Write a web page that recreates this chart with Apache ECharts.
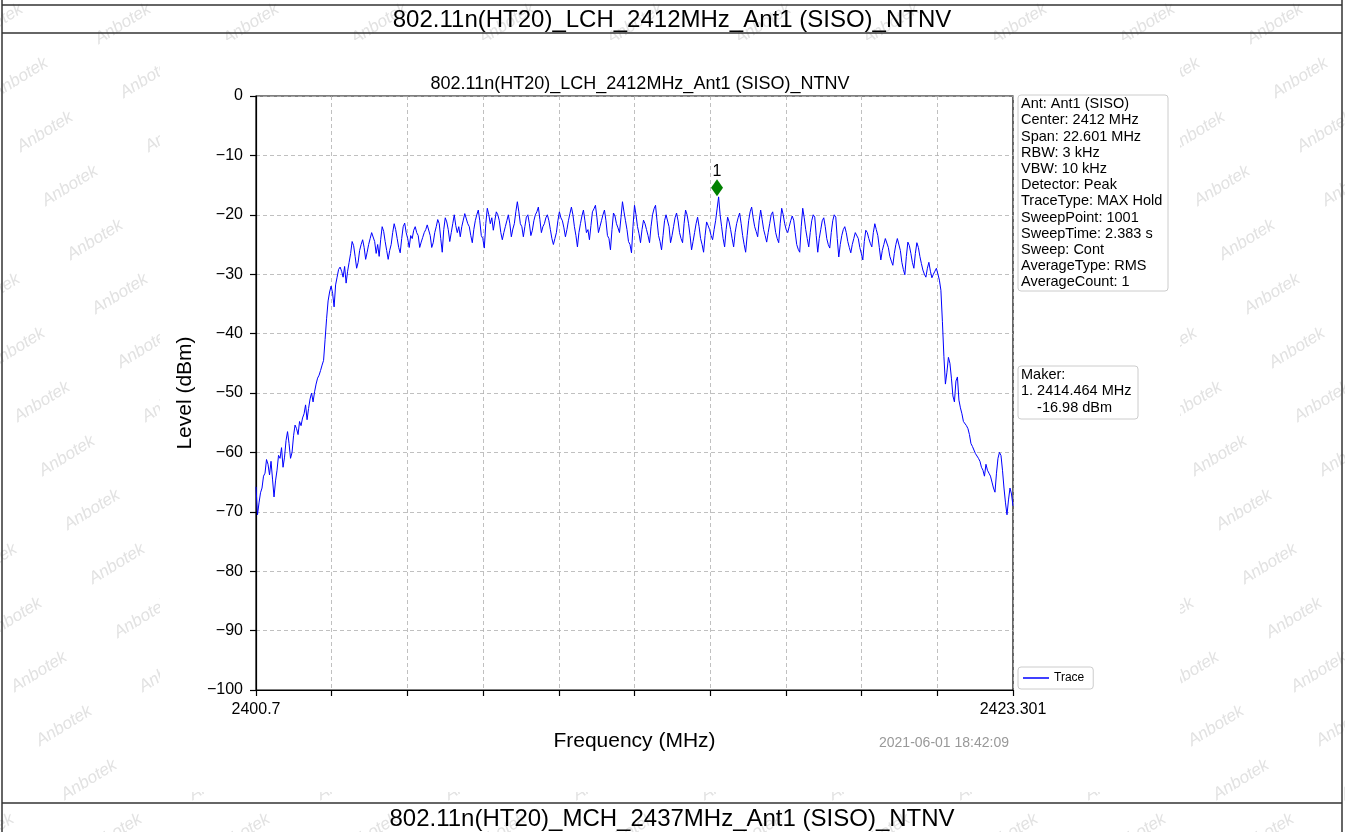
<!DOCTYPE html>
<html><head><meta charset="utf-8">
<script src="https://cdn.jsdelivr.net/npm/echarts@6/dist/echarts.min.js"></script>
<style>html,body{margin:0;padding:0;background:#fff}#c{width:1345px;height:832px}</style>
</head><body><div id="c"></div>
<script>
const headerTitle = '802.11n(HT20)_LCH_2412MHz_Ant1 (SISO)_NTNV';
const nextHeaderTitle = '802.11n(HT20)_MCH_2437MHz_Ant1 (SISO)_NTNV';
const plotTitle = '802.11n(HT20)_LCH_2412MHz_Ant1 (SISO)_NTNV';
const xAxisName = 'Frequency (MHz)';
const yAxisName = 'Level (dBm)';
const freqStart = 2400.7;
const freqStop = 2423.301;
const yMin = -100, yMax = 0, yStep = 10;
const xTickLabels = ['2400.7','','','','','','','','','','2423.301'];
const levels = [
-65.8,-70.5,-68.5,-66.8,-66.0,-64.0,-63.5,-61.2,-62.0,-63.8,-61.5,-64.5,-67.5,-64.8,-63.0,-60.5,-61.0,-59.2,-62.5,-60.8,
-58.0,-56.5,-58.5,-61.0,-60.0,-57.2,-55.4,-56.0,-57.0,-54.8,-55.5,-54.2,-53.5,-52.0,-54.5,-52.6,-51.0,-50.0,-51.5,-49.8,
-48.5,-47.5,-47.0,-46.2,-45.3,-44.5,-41.0,-37.5,-34.5,-33.0,-32.0,-33.2,-35.5,-31.8,-30.5,-29.2,-28.8,-29.5,-30.5,-28.7,
-31.5,-29.5,-28.0,-26.5,-24.5,-25.2,-27.0,-29.0,-28.0,-26.0,-25.0,-24.2,-25.5,-27.5,-26.3,-25.0,-24.0,-23.0,-22.9,-24.5,
-26.5,-25.0,-27.0,-24.2,-22.0,-22.8,-24.5,-26.0,-27.5,-26.0,-25.0,-23.0,-21.5,-22.5,-24.0,-25.5,-26.4,-24.0,-22.0,-21.4,
-23.0,-24.0,-25.5,-23.5,-24.0,-22.6,-22.0,-23.0,-23.5,-25.5,-24.6,-23.8,-23.0,-22.5,-21.7,-22.0,-23.5,-25.5,-24.7,-23.0,
-22.0,-20.8,-21.5,-24.0,-26.3,-22.5,-20.5,-21.2,-22.5,-24.5,-23.0,-21.5,-20.0,-21.8,-23.0,-22.0,-23.7,-22.0,-20.9,-19.8,
-20.0,-21.5,-22.0,-23.5,-24.7,-22.5,-21.0,-20.0,-19.2,-21.0,-23.5,-24.0,-25.6,-21.5,-18.9,-20.0,-21.5,-20.5,-22.6,-21.0,
-19.5,-20.0,-21.0,-23.0,-24.2,-23.0,-22.0,-21.0,-20.0,-21.5,-23.7,-22.4,-21.5,-19.5,-17.8,-19.5,-21.5,-22.0,-23.7,-22.0,
-20.4,-20.0,-21.5,-23.5,-22.6,-21.0,-20.0,-19.5,-18.7,-20.8,-23.0,-22.0,-21.5,-20.5,-20.0,-21.0,-22.5,-24.0,-25.0,-24.0,
-23.0,-21.0,-19.5,-20.5,-21.0,-22.2,-23.7,-22.5,-21.0,-19.8,-18.7,-20.0,-22.0,-23.5,-25.4,-23.0,-21.5,-20.2,-19.2,-21.0,
-23.0,-22.5,-24.2,-21.8,-19.5,-19.0,-18.4,-20.5,-23.0,-22.0,-21.0,-20.0,-19.2,-21.0,-23.5,-24.0,-25.9,-22.5,-19.7,-20.2,
-21.5,-22.2,-23.0,-20.5,-17.8,-19.5,-21.0,-22.5,-24.5,-25.0,-26.4,-22.0,-18.4,-20.0,-22.0,-23.2,-24.7,-22.5,-20.9,-21.5,
-22.5,-23.5,-24.7,-22.0,-20.0,-19.0,-18.4,-21.0,-23.5,-24.5,-25.9,-23.5,-21.0,-20.0,-19.7,-22.0,-24.7,-23.5,-22.0,-20.5,
-19.7,-21.0,-23.0,-24.0,-24.7,-21.5,-19.2,-20.0,-21.5,-23.5,-25.9,-24.5,-23.0,-21.5,-20.4,-22.0,-24.0,-25.0,-26.3,-23.5,
-21.2,-21.8,-22.5,-23.5,-24.2,-22.5,-21.0,-19.0,-16.98,-20.0,-22.0,-24.0,-25.4,-22.5,-20.4,-21.2,-22.5,-24.0,-25.4,-23.0,
-21.5,-20.5,-19.7,-21.5,-23.5,-25.0,-26.3,-23.5,-21.0,-19.5,-18.7,-20.5,-22.0,-22.8,-23.7,-21.0,-19.2,-20.8,-22.5,-23.5,
-24.6,-23.0,-21.5,-20.0,-19.5,-21.2,-23.0,-24.0,-24.7,-21.5,-18.9,-20.0,-21.5,-22.5,-23.0,-22.0,-21.0,-20.2,-20.9,-23.0,
-25.0,-25.8,-26.3,-22.0,-18.9,-20.5,-22.5,-24.0,-25.4,-23.0,-21.0,-20.0,-20.4,-23.5,-26.3,-24.0,-22.5,-21.0,-20.5,-22.0,
-24.0,-25.0,-25.6,-23.0,-21.0,-20.0,-20.4,-24.0,-27.1,-25.0,-23.5,-22.5,-22.0,-23.0,-24.5,-25.5,-26.4,-25.0,-24.0,-23.0,
-22.9,-24.0,-25.5,-26.5,-27.6,-24.5,-22.6,-23.0,-24.0,-24.8,-25.4,-23.0,-21.5,-22.5,-23.5,-25.5,-27.6,-26.0,-25.0,-24.0,
-23.7,-25.5,-27.0,-27.8,-28.5,-26.5,-25.0,-24.0,-23.7,-26.0,-28.0,-29.2,-30.1,-27.0,-24.6,-25.2,-26.5,-28.0,-29.0,-26.5,
-24.7,-25.5,-27.0,-28.2,-29.3,-30.0,-30.5,-29.0,-28.0,-29.5,-30.6,-30.0,-29.5,-29.0,-30.0,-31.0,-32.7,-38.0,-43.9,-48.5,
-46.5,-44.0,-45.0,-47.5,-50.5,-51.5,-48.0,-47.3,-51.2,-52.5,-53.5,-54.8,-55.0,-55.5,-56.0,-57.0,-58.5,-59.0,-59.6,-60.2,
-60.0,-61.0,-61.5,-62.5,-63.0,-64.0,-62.0,-63.0,-63.5,-64.0,-65.0,-66.0,-66.7,-63.5,-61.0,-60.0,-60.5,-63.0,-66.0,-68.5,
-70.5,-68.0,-66.0,-67.0,-69.0
];
const markerPoint = [2414.464, -16.98];
const markerLabel = '1';
const infoLines = ['Ant: Ant1 (SISO)','Center: 2412 MHz','Span: 22.601 MHz','RBW: 3 kHz','VBW: 10 kHz','Detector: Peak','TraceType: MAX Hold','SweepPoint: 1001','SweepTime: 2.383 s','Sweep: Cont','AverageType: RMS','AverageCount: 1'];
const markerLines = ['Maker:','1. 2414.464 MHz','    -16.98 dBm'];
const legendName = 'Trace';
const timestamp = '2021-06-01 18:42:09';
const watermarkText = 'Anbotek';

const FONT = "'Liberation Sans', Arial, sans-serif";
const freqStep = (freqStop - freqStart) / (levels.length - 1);
const trace = levels.map((v, i) => [freqStart + i * freqStep, v]);
const gridLine = { color: '#b0b0b0', width: 0.8, type: [4, 3] };

// decorative background watermark lattice
const marks = [];
for (let m = -2; m <= 15; m++) {
  for (let k = -3; k <= 12; k++) {
    const x = 20 + 128 * k + 25 * m, y = 78 + 54 * m;
    if (x < -60 || x > 1400) continue;
    marks.push({ type: 'text', x: x, y: y, rotation: 0.55, z: -20, silent: true,
      style: { text: watermarkText, fontSize: 17, fontStyle: 'italic', fontFamily: FONT, fill: '#e2e2e2', textAlign: 'center', textVerticalAlign: 'middle' } });
  }
}

const chart = echarts.init(document.getElementById('c'), null, { renderer: 'canvas' });
chart.setOption({
  animation: false,
  backgroundColor: '#fff',
  textStyle: { fontFamily: FONT },
  grid: { left: 256, top: 96, width: 757, height: 594, show: true, borderColor: '#000', borderWidth: 1.2, backgroundColor: 'transparent' },
  title: { text: plotTitle, left: 635, top: 70, textAlign: 'center', textStyle: { fontFamily: FONT, fontSize: 18, fontWeight: 'normal', color: '#000' } },
  legend: {
    left: 1018, top: 667, data: [{ name: legendName, icon: 'rect' }], itemWidth: 26, itemHeight: 1.5,
    textStyle: { fontSize: 12, color: '#000', fontFamily: FONT }, borderColor: '#ccc', borderWidth: 1, borderRadius: 3,
    padding: [5, 9, 5, 5], backgroundColor: '#fff', itemGap: 5
  },
  xAxis: [
    { type: 'value', min: freqStart, max: freqStop, show: false },
    {
      type: 'value', min: 0, max: 10, interval: 1, position: 'bottom',
      name: xAxisName, nameLocation: 'middle', nameGap: 41,
      nameTextStyle: { fontSize: 21, color: '#000', fontFamily: FONT },
      axisLine: { show: true, lineStyle: { color: '#000', width: 1.2 } },
      axisTick: { show: true, length: 6, lineStyle: { color: '#000', width: 1.2 } },
      axisLabel: { formatter: v => xTickLabels[Math.round(v)] || '', fontSize: 16, color: '#000', margin: 12, showMinLabel: true, showMaxLabel: true },
      splitLine: { show: true, lineStyle: gridLine }
    }
  ],
  yAxis: {
    type: 'value', min: yMin, max: yMax, interval: yStep,
    name: yAxisName, nameLocation: 'middle', nameGap: 56, nameRotate: 90,
    nameTextStyle: { fontSize: 21, color: '#000', fontFamily: FONT },
    axisLine: { show: true, lineStyle: { color: '#000', width: 1.2 } },
    axisTick: { show: true, length: 6, lineStyle: { color: '#000', width: 1.2 } },
    axisLabel: { formatter: v => String(v).replace('-', '\u2212'), fontSize: 16, color: '#000', margin: 13 },
    splitLine: { show: true, lineStyle: gridLine }
  },
  series: [
    { name: legendName, type: 'line', xAxisIndex: 0, data: trace, showSymbol: false, symbol: 'none',
      lineStyle: { color: '#0000ff', width: 1 }, itemStyle: { color: '#0000ff' }, z: 4 },
    { name: 'marker', type: 'scatter', xAxisIndex: 0, data: [markerPoint], symbol: 'diamond', symbolSize: [12, 17], symbolOffset: [0, -9],
      itemStyle: { color: '#008000', opacity: 1 }, z: 5,
      label: { show: true, formatter: markerLabel, position: 'top', distance: 0, fontSize: 16, color: '#000', fontFamily: FONT } }
  ],
  graphic: marks.concat([
    { type: 'rect', shape: { x: 160, y: 40, width: 1020, height: 752 }, style: { fill: '#fff' }, z: -10, silent: true },
    { type: 'line', shape: { x1: 2, y1: 5, x2: 1342, y2: 5 }, style: { stroke: '#333', lineWidth: 1.5 } },
    { type: 'line', shape: { x1: 2, y1: 33, x2: 1342, y2: 33 }, style: { stroke: '#333', lineWidth: 1.5 } },
    { type: 'line', shape: { x1: 2, y1: 803, x2: 1342, y2: 803 }, style: { stroke: '#333', lineWidth: 1.5 } },
    { type: 'line', shape: { x1: 2, y1: 0, x2: 2, y2: 832 }, style: { stroke: '#333', lineWidth: 1.5 } },
    { type: 'line', shape: { x1: 1342, y1: 0, x2: 1342, y2: 832 }, style: { stroke: '#333', lineWidth: 1.5 } },
    { type: 'text', x: 672, y: 20, style: { text: headerTitle, fontSize: 24, fontFamily: FONT, fill: '#000', textAlign: 'center', textVerticalAlign: 'middle' } },
    { type: 'text', x: 672, y: 819, style: { text: nextHeaderTitle, fontSize: 24, fontFamily: FONT, fill: '#000', textAlign: 'center', textVerticalAlign: 'middle' } },
    { type: 'text', x: 944, y: 743, style: { text: timestamp, fontSize: 14, fontFamily: FONT, fill: '#999', textAlign: 'center', textVerticalAlign: 'middle' } },
    { type: 'rect', shape: { x: 1018, y: 95, width: 150, height: 196, r: 3 }, style: { fill: '#fff', stroke: '#ccc', lineWidth: 1 } },
    { type: 'text', x: 1021, y: 96, style: { text: infoLines.join('\n'), fontSize: 14.5, lineHeight: 16.2, fontFamily: FONT, fill: '#000' } },
    { type: 'rect', shape: { x: 1018, y: 366, width: 120, height: 53, r: 3 }, style: { fill: '#fff', stroke: '#ccc', lineWidth: 1 } },
    { type: 'text', x: 1021, y: 367, style: { text: markerLines.join('\n'), fontSize: 14.5, lineHeight: 16.2, fontFamily: FONT, fill: '#000' } }
  ])
});
</script></body></html>
